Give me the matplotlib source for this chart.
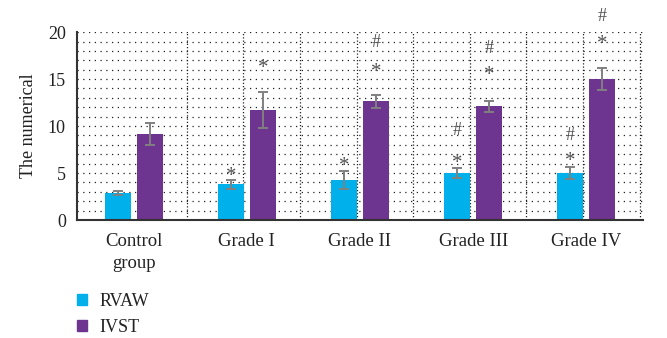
import matplotlib
matplotlib.use("Agg")
import matplotlib.pyplot as plt
from matplotlib.patches import Patch
import numpy as np

plt.rcParams['font.family'] = ['Liberation Serif', 'DejaVu Serif']

categories = ["Control\ngroup", "Grade I", "Grade II", "Grade III", "Grade IV"]
rvaw = [2.9, 3.8, 4.25, 5.0, 5.0]
rvaw_err = [0.2, 0.5, 1.0, 0.55, 0.6]
ivst = [9.15, 11.7, 12.65, 12.1, 15.0]
ivst_err = [1.2, 1.9, 0.7, 0.6, 1.2]
# significance marks: (group, series, y, symbol)
marks = [
    (1, 0, 5.0, "*"), (1, 1, 16.5, "*"),
    (2, 0, 6.1, "*"), (2, 1, 16.0, "*"), (2, 1, 18.9, "#"),
    (3, 0, 6.4, "*"), (3, 0, 9.5, "#"), (3, 1, 15.7, "*"), (3, 1, 18.3, "#"),
    (4, 0, 6.6, "*"), (4, 0, 9.0, "#"), (4, 1, 19.0, "*"), (4, 1, 21.7, "#"),
]
yticks = [0, 5, 10, 15, 20]

c_rvaw = "#00B0EB"
c_ivst = "#6D3590"
err_c = "#808080"
txt_c = "#222222"

fig = plt.figure(figsize=(6.67, 3.38), dpi=100)
ax = fig.add_axes([0.1154, 0.349, 0.964 - 0.1154, 0.905 - 0.349])

x = np.arange(len(categories))
w = 0.23
off = 0.141

# dotted grid
for yv in range(1, 21):
    ax.axhline(yv, color="#222222", lw=0.9, ls=(0, (1, 3.6)), zorder=0)
ax.vlines(np.arange(-0.03, 4.6, 0.5)[1:], 0, 20, color="#222222", lw=0.9,
          ls=(0, (1, 1.6)), zorder=0, clip_on=False)

ek = dict(ecolor=err_c, elinewidth=1.4, capsize=3.5, capthick=1.4)
ax.bar(x - off, rvaw, w, color=c_rvaw, yerr=rvaw_err, error_kw=ek, zorder=2)
ax.bar(x + off, ivst, w, color=c_ivst, yerr=ivst_err, error_kw=ek, zorder=2)

for g, s, yv, sym in marks:
    xp = g - off if s == 0 else g + off
    fs = 15 if sym == "*" else 13
    dy = -0.35 if sym == "*" else 0
    ax.text(xp, yv + dy, sym, ha="center", va="center", fontsize=fs,
            color="#505050", clip_on=False)

ax.set_xlim(-0.5, 4.5)
ax.set_ylim(0, 20)
ax.set_yticks(yticks)
ax.set_xticks(x)
ax.set_xticklabels(categories, fontsize=13.5, color=txt_c, linespacing=1.4)
ax.tick_params(axis="y", labelsize=13, length=0, pad=8, colors=txt_c)
ax.tick_params(axis="x", length=0, pad=9.5, colors=txt_c)
for sp in ["top", "right"]:
    ax.spines[sp].set_visible(False)
for sp in ["left", "bottom"]:
    ax.spines[sp].set_color("#333333")
    ax.spines[sp].set_linewidth(1.5)

ax.set_ylabel("The numerical", fontsize=13, color=txt_c, labelpad=8)

handles = [Patch(color=c_rvaw, label="RVAW"), Patch(color=c_ivst, label="IVST")]
fig.legend(handles=handles, loc="upper left", bbox_to_anchor=(0.104, 0.155),
           frameon=False, fontsize=13, handlelength=0.57, handleheight=0.57,
           handletextpad=0.7, labelspacing=0.5, borderaxespad=0,
           labelcolor=txt_c)

fig.savefig("out.png", dpi=100)
